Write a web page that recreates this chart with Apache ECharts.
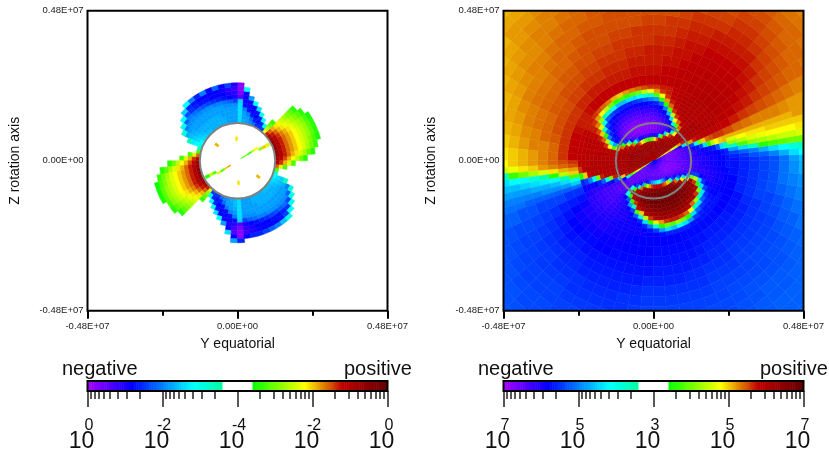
<!DOCTYPE html>
<html><head><meta charset="utf-8">
<script src="https://cdn.jsdelivr.net/npm/echarts@6/dist/echarts.min.js"></script>
<style>html,body{margin:0;padding:0;background:#fff}#c{width:829px;height:453px}</style>
</head><body><div id="c"></div>
<script>
// Levels: sign * 10 * (decades above the centre of the scale). +-40 = scale ends.
const axisExtent = 4.8e6;
const starRadius = 1.206e6;
const ringStep = 0.128e6;
const outerStep = 0.32e6;
const outerStart = 2.432e6;
const leftStart = 1.216e6;
const plotTickLabels = ['-0.48E+07','0.00E+00','0.48E+07'];
const plotMajorTicks = [-4.8e6,0,4.8e6];
const plotMinorTicks = [-2.4e6,2.4e6];
const barMajorTicks = [-40,-20,0,20,40];
const logOffsets = [0.915,1.938,3.098,4.437,6.02,7.96,10.46,13.98];
const leftExponents = ['0','-2','-4','-2','0'];
const rightExponents = ['7','5','3','5','7'];

// one row per 5 degree sector, rings of 4 px from the centre
const rightInner = [
[-30,-33,-35,-36,-36,-36,-35,-34,-33,-32,-31,-31,-30,-30,-29,-29,-28,-28,-27],
[-30,-33,-35,-36,-36,-36,-35,-34,-33,-32,-31,-30,-30,-29,-29,-28,-28,-27,-26],
[-30,-33,-35,-36,-36,-36,-35,-34,-33,-32,-31,-30,-29,-28,-27,-26,-22,-14,-6],
[-30,-33,-35,-36,-36,-36,-35,-34,-33,-31,-29,-27,-24,-14,6,14,18,20,21],
[-30,-33,-35,-36,-37,-36,-35,-34,-32,-30,-24,-10,10,20,24,25,26,26,26],
[-29,-33,-35,-36,-36,-35,-33,-28,-14,8,22,27,28,29,29,29,29,29,28],
[6,12,18,18,20,18,14,22,27,29,30,30,30,30,30,30,30,30,29],
[28,31,32,33,33,33,33,32,31,31,31,31,31,31,31,30,30,30,30],
[30,32,33,33,33,33,33,32,32,31,31,31,31,31,30,30,30,30,30],
[30,32,33,33,33,33,32,32,31,30,30,30,30,30,30,30,30,30,30],
[30,32,33,33,33,32,32,28,18,10,24,29,30,30,30,30,30,30,30],
[30,32,33,33,33,32,32,26,-6,-22,8,24,28,30,30,30,30,30,30],
[30,32,33,33,33,32,30,14,-28,-27,-8,18,26,29,30,30,30,30,29],
[30,32,33,33,33,32,27,-14,-32,-31,-28,-14,14,26,28,29,29,29,29],
[30,32,33,33,32,31,8,-30,-34,-33,-31,-28,-16,8,24,27,28,28,28],
[30,32,33,33,32,28,-6,-33,-35,-35,-33,-31,-28,-20,6,22,26,27,27],
[30,32,33,33,32,24,-26,-35,-36,-35,-34,-32,-30,-28,-22,6,18,26,27],
[30,32,33,33,32,16,-29,-36,-37,-36,-35,-33,-31,-29,-26,-18,8,22,26],
[30,32,33,33,32,10,-30,-36,-38,-37,-35,-34,-32,-30,-27,-20,-6,18,26],
[30,32,33,33,32,8,-31,-37,-38,-37,-36,-34,-32,-30,-28,-22,-8,14,25],
[30,32,33,33,31,6,-32,-37,-38,-38,-36,-34,-32,-30,-28,-24,-12,10,24],
[30,32,33,33,31,8,-32,-37,-38,-38,-36,-35,-33,-31,-29,-25,-14,8,23],
[30,32,33,33,31,10,-31,-37,-38,-38,-37,-35,-33,-31,-29,-26,-14,6,22],
[30,32,33,33,32,14,-30,-36,-38,-38,-37,-35,-33,-31,-29,-26,-16,8,20],
[30,32,33,33,32,18,-28,-36,-38,-38,-37,-35,-33,-31,-29,-26,-16,6,21],
[30,32,33,33,32,24,-22,-35,-37,-38,-36,-35,-33,-31,-29,-25,-12,10,23],
[30,32,33,33,32,27,-12,-33,-36,-37,-36,-34,-32,-30,-28,-24,-8,14,24],
[30,32,33,33,32,30,6,-30,-35,-36,-35,-33,-31,-29,-27,-22,-6,18,25],
[30,32,33,33,33,31,24,-6,-32,-34,-33,-31,-29,-27,-24,-10,12,22,26],
[30,32,33,33,33,32,29,14,-24,-31,-30,-28,-26,-22,-6,16,23,26,27],
[30,32,33,33,33,32,31,27,6,-24,-28,-26,-20,6,20,25,27,27,27],
[30,32,33,33,33,32,31,30,24,6,-18,-10,14,24,27,28,28,28,28],
[30,32,33,33,33,32,31,31,29,20,8,18,26,28,29,29,29,29,28],
[30,32,33,33,33,33,32,31,31,30,30,29,29,29,29,29,29,28,28],
[30,32,33,33,33,33,32,31,31,30,30,30,30,30,29,29,29,29,28],
[30,32,33,33,33,33,32,31,31,30,30,30,30,30,30,29,29,29,29],
[30,32,33,33,33,33,32,31,31,30,30,30,30,30,30,30,29,29,28],
[30,32,33,33,33,33,32,31,31,31,30,30,30,30,30,30,30,29,26],
[30,32,33,33,33,33,32,31,31,31,31,30,30,30,30,30,28,20,6],
[30,32,33,33,33,32,32,31,31,31,30,30,30,27,10,-10,-20,-24,-26],
[30,32,33,33,32,32,32,31,31,29,27,10,-8,-22,-26,-28,-29,-29,-29],
[27,29,30,30,30,30,29,27,20,-6,-24,-28,-30,-31,-31,-31,-31,-30,-30],
[6,12,16,12,18,12,6,-10,-28,-32,-33,-33,-33,-33,-33,-32,-32,-31,-31],
[-26,-33,-34,-35,-35,-35,-35,-35,-34,-34,-34,-34,-33,-33,-33,-32,-32,-31,-31],
[-26,-33,-34,-35,-35,-35,-35,-35,-34,-34,-34,-34,-33,-33,-33,-32,-32,-31,-31],
[-26,-33,-34,-35,-35,-35,-35,-35,-34,-34,-33,-32,-32,-32,-32,-32,-31,-31,-30],
[-26,-33,-34,-35,-35,-35,-35,-30,-10,-6,-12,-28,-31,-31,-31,-31,-31,-30,-30],
[-26,-33,-34,-35,-35,-35,-32,-24,6,30,6,-22,-29,-30,-30,-30,-30,-30,-29],
[-26,-33,-34,-35,-35,-34,-30,-6,30,33,30,6,-18,-28,-30,-30,-30,-29,-29],
[-26,-33,-34,-35,-34,-33,-18,24,33,34,33,26,-6,-24,-28,-29,-29,-29,-29],
[-26,-33,-34,-35,-34,-30,6,32,35,36,35,33,28,8,-22,-28,-29,-29,-29],
[-26,-33,-34,-35,-34,-26,14,33,36,37,36,34,31,20,-8,-26,-28,-29,-29],
[-26,-33,-34,-35,-34,-22,22,34,37,38,37,35,33,30,14,-14,-26,-28,-29],
[-26,-33,-34,-35,-34,-18,26,35,37,38,38,36,34,32,26,6,-20,-27,-28],
[-27,-33,-34,-35,-34,-16,28,35,38,38,38,37,35,33,30,16,-8,-24,-28],
[-27,-33,-35,-35,-34,-14,28,36,38,38,38,37,35,33,31,22,6,-18,-27],
[-27,-33,-35,-35,-34,-12,28,36,38,38,38,37,36,34,32,26,10,-14,-26],
[-27,-33,-35,-35,-34,-12,28,36,38,38,38,37,36,34,32,27,8,-16,-26],
[-27,-34,-35,-36,-34,-16,26,36,38,38,38,37,36,34,32,27,12,-12,-26],
[-27,-34,-35,-36,-35,-20,24,35,38,38,38,37,36,34,32,26,10,-14,-26],
[-28,-34,-35,-36,-35,-24,20,35,37,38,38,37,35,34,31,24,6,-18,-27],
[-28,-34,-35,-36,-35,-28,12,34,37,38,37,36,35,33,30,18,-14,-24,-27],
[-28,-34,-36,-36,-36,-32,-8,30,36,37,37,36,34,32,24,-6,-22,-26,-27],
[-28,-34,-36,-36,-36,-33,-24,24,34,36,36,35,33,31,12,-14,-25,-27,-27],
[-29,-34,-36,-37,-37,-35,-30,-6,30,34,35,34,32,26,-6,-22,-26,-27,-27],
[-29,-34,-36,-37,-37,-36,-32,-22,16,32,34,33,30,10,-14,-25,-27,-27,-27],
[-29,-34,-36,-37,-37,-36,-34,-30,-14,14,32,26,6,-14,-24,-27,-28,-28,-27],
[-30,-34,-36,-37,-37,-36,-35,-33,-30,-16,10,14,-14,-25,-28,-29,-29,-28,-28],
[-30,-34,-36,-37,-37,-37,-36,-35,-33,-31,-24,-24,-28,-30,-30,-30,-29,-29,-28],
[-30,-34,-36,-37,-37,-37,-36,-35,-34,-33,-32,-31,-31,-31,-30,-30,-29,-29,-28],
[-30,-34,-36,-37,-37,-37,-36,-35,-34,-33,-32,-31,-31,-30,-30,-29,-29,-28,-28],
[-30,-33,-35,-36,-36,-36,-35,-35,-34,-33,-32,-31,-30,-30,-29,-29,-28,-28,-27]
];

// outer field: sector edges in degrees, one row per sector, rings of 10 px
const rightOuterEdges = [0,2.5,5,7.5,10,12.5,15,17.5,20,25,30,35,40,45,50,55,60,65,70,75,80,85,90,95,100,105,110,115,120,125,130,135,140,145,150,155,160,165,170,175,180,182.5,185,187.5,190,192.5,195,197.5,200,205,210,215,220,225,230,235,240,245,250,255,260,265,270,275,280,285,290,295,300,305,310,315,320,325,330,335,340,345,350,355,360];
const rightOuter = [
[-27,-26,-25,-24,-23,-21,-18,-16],
[-26,-25,-23,-22,-20,-17,-14,-12],
[-24,-22,-20,-17,-14,-12,-9,-6],
[-18,-14,-6,6,8,9,10,10],
[-6,8,12,13,14,15,15,16],
[12,14,16,17,18,18,18,19],
[16,18,19,19,20,20,20,20,21],
[21,21,21,21,21,21,21,22,22],
[25,24,23.5,23,23,23,22.5,22,22],
[28,27,26,25.5,25,24.5,24,23.5,23,23],
[29,28.5,27.5,27,26,25.5,25,24.5,24,24,23.5],
[29.5,29,28.5,27.5,27,26,25.5,25,24.5,24,24,23.5],
[30,29.5,29,28.5,27.5,27,26,25.5,25,24.5,24,24,23.5,23],
[30,29.5,29,28.5,28,27.5,27,26,25.5,25,24.5,24,23.5,23],
[30,29.5,29,28.5,28,27.5,27,26.5,26,25.5,25,24.5],
[29.5,29.5,29,28.5,28,27.5,27,26.5,26,25.5,25],
[29.5,29,28.5,28.5,28,27.5,27,26,25.5,25],
[29,28.5,28.5,28,27.5,27,26.5,26,25.5],
[28.5,28.5,28,27.5,27.5,27,26.5,26,25],
[28.5,28,27.5,27.5,27,26.5,26,25.5],
[28,28,27.5,27,26.5,26,26,25],
[28,27.5,27,27,26.5,26,25.5,25],
[28,27.5,27,27,26,26,25.5,25],
[28,27.5,27,26.5,26,26,25,25],
[28,27.5,27,26.5,26,25.5,25,25],
[28,27,26.5,26,26,25.5,25,25,24.5],
[28,27,26.5,26,25.5,25,25,24.5,24.5],
[28,27,26.5,26,25.5,25,25,24.5,24,24],
[28,27,26,25.5,25,25,24.5,24,24,23.5,23],
[28,27,26,25.5,25,24.5,24,24,23.5,23,23,22.5],
[28,27,26,25,24.5,24,24,23.5,23,23,22.5,22,21.5,21],
[28,26.5,25.5,25,24.5,24,23.5,23,22.5,22.5,22,22,21.5,21],
[27.5,26.5,25.5,25,24,23.5,23,23,22.5,22,21.5,21],
[27,26,25,24.5,24,23.5,23,22.5,22,21.5,21],
[27,26,25,24.5,24,23.5,23,22,21.5,21],
[27.5,26,25,24,23.5,23,22.5,21.5,21],
[28,26,25,24,23.5,23,22,21.5,20.5],
[28,26,24.5,24,23,22.5,21.5,21],
[28,26,24,23,23,22,21,20],
[28,26,24,23,22,21,20,19],
[26,25,24,23,22,21,20,18],
[25,24,23,22,20,19,17,15],
[22,21,19,16,13,10,7,-6],
[20,14,6,-5,-8,-11,-12,-14],
[8,-5,-11,-13,-14,-15,-16,-16],
[-9,-14,-16,-17,-17,-18,-18,-18],
[-15,-18,-19,-19,-20,-20,-20,-20,-20],
[-21,-22,-22,-22,-22,-22,-21,-21,-21],
[-25,-25,-24,-24,-24,-23,-23,-22,-22],
[-27,-26.5,-26,-25,-24.5,-24,-23.5,-23.5,-23,-23],
[-29,-28,-27,-26,-25,-24.5,-24,-24,-23.5,-23,-23],
[-30,-29,-28,-26.5,-25.5,-25,-24.5,-24,-24,-23.5,-23,-23],
[-30,-29,-28,-27,-26,-25,-24.5,-24.5,-24,-24,-23.5,-23,-23,-23],
[-30,-29,-27.5,-26.5,-26,-25.5,-25,-24.5,-24,-24,-23.5,-23.5,-23,-23],
[-30,-29,-27.5,-27,-26,-25.5,-25,-24.5,-24,-24,-23.5,-23.5],
[-29.5,-28.5,-28,-27,-26.5,-26,-25,-25,-24.5,-24,-24],
[-29,-28.5,-28,-27,-26.5,-26,-25.5,-25,-24.5,-24],
[-29,-28.5,-27.5,-27,-26.5,-26,-25.5,-25,-24.5],
[-28.5,-28,-27.5,-27,-26.5,-26,-25.5,-25,-24.5],
[-28,-28,-27.5,-27,-26.5,-26,-25,-25],
[-28,-28,-27.5,-27,-26.5,-25.5,-25,-24.5],
[-28,-28,-27.5,-27,-26,-25,-24.5,-24],
[-28,-27.5,-27,-26.5,-26,-25,-24.5,-24],
[-28,-27.5,-27,-26.5,-26,-25,-24.5,-24],
[-28,-27.5,-27,-26.5,-26,-25,-24.5,-24],
[-28,-27.5,-27,-26.5,-25.5,-25,-24.5,-24,-24],
[-27.5,-27.5,-27,-26,-25.5,-25,-24.5,-24,-23.5],
[-27.5,-27,-26.5,-26,-25,-24.5,-24,-24,-23.5,-23.5],
[-27.5,-27,-26,-25.5,-25,-24.5,-24,-23.5,-23.5,-23,-23],
[-27.5,-26.5,-26,-25.5,-25,-24.5,-24,-23.5,-23,-23,-22.5,-22.5],
[-27.5,-26.5,-26,-25,-24.5,-24,-24,-23.5,-23,-22.5,-22.5,-22,-22,-22],
[-27.5,-26.5,-26,-25,-24.5,-24,-23.5,-23.5,-23,-22.5,-22.5,-22,-22,-22],
[-28,-26.5,-26,-25,-24.5,-24,-23.5,-23,-23,-22.5,-22,-22],
[-28,-27,-26,-25,-24.5,-24,-23.5,-23,-22.5,-22,-22],
[-28,-27,-26,-25,-24.5,-24,-23,-22.5,-22,-21.5],
[-28,-27,-25.5,-25,-24,-23.5,-22.5,-22,-21],
[-28,-26,-25,-24,-24,-23,-22,-21,-21],
[-28,-26,-25,-24,-23,-22,-21,-20],
[-27,-26,-25,-24,-23,-21,-20,-19],
[-27,-26,-25,-24,-23,-21,-19,-17]
];

// left panel: one row per 5 degree sector, rings of 4 px from the star surface
const leftLobes = [
[32,28,25,21,18,14,10,6],
[33,30,27,24,21,19,16,13,9,6],
[34,30,27,24,22,20,18,16,13,10,7],
[34,30,27,24,22,20,18,16,14,11,8,5],
[34,30,27,24,22,20,18,16,14,12,9,6],
[33,30,27,24,22,20,18,16,14,12,9,6],
[32,29,26,23,21,19,17,15,13,11,8,5],
[30,27,24,21,19,17,15,13,11,9,6],
[27,24,21,19,17,15,13,11,9,6],
[18,14,10,7],
[-24,-10],
[-25,-26,-12],
[-25,-27,-26,-10],
[-21,-26,-28,-27,-14],
[-19,-21,-27,-29,-28,-12],
[-18,-18,-20,-27,-29,-29,-18],
[-17,-18,-18,-20,-27,-29,-29,-28,-12],
[-14,-14,-14,-14,-14,-15,-34,-37,-38,-38],
[-18,-18,-18,-18,-19,-24,-30,-31,-32,-30],
[-18,-18,-18,-18,-19,-22,-28,-30,-31,-24],
[-18,-18,-18,-18,-19,-21,-27,-28,-29,-28],
[-17,-17,-18,-18,-18,-20,-26,-28,-28,-22],
[-17,-17,-17,-18,-18,-20,-25,-28,-28,-28],
[-17,-17,-17,-18,-18,-19,-24,-27,-28,-20],
[-17,-17,-17,-18,-18,-19,-23,-27,-28,-26],
[-17,-17,-17,-18,-18,-19,-22,-26,-27,-20],
[-16,-17,-17,-18,-18,-19,-21,-25,-26,-12],
[-16,-17,-17,-18,-18,-19,-20,-23,-15],
[-15,-16,-17,-18,-18,-19,-22,-12],
[-14,-15,-16,-17,-18,-20,-10],
[-12,-14,-15,-16,-17,-8],
[-10,-12,-13,-6],
[-6],
[8],
[24,16,8],
[30,26,21,16,8],
[32,28,25,21,18,14,10,6],
[33,30,27,24,21,19,16,13,9,6],
[34,30,27,24,22,20,18,16,13,10,7],
[34,30,27,24,22,20,18,16,14,11,8,4],
[34,30,27,24,22,20,18,16,14,12,9,5],
[33,30,27,24,22,20,18,16,14,12,9,5],
[32,29,26,23,21,19,17,15,13,11,8],
[30,27,24,21,19,17,15,13,11,9,6],
[27,24,21,19,17,15,13,11,9,6],
[16,12,9,7],
[-24,-10],
[-25,-26,-12],
[-25,-27,-26,-10],
[-21,-26,-28,-27,-14],
[-19,-21,-27,-29,-28,-12],
[-18,-18,-20,-27,-29,-29,-18],
[-17,-18,-18,-20,-27,-29,-30,-29,-14],
[-16,-16,-17,-18,-20,-27,-31,-33,-34,-28,-18],
[-14,-14,-14,-14,-14,-15,-34,-37,-38,-38,-26],
[-18,-18,-18,-18,-19,-24,-30,-31,-32,-28],
[-18,-18,-18,-18,-19,-22,-28,-30,-30,-26],
[-18,-18,-18,-18,-19,-21,-27,-28,-29,-26],
[-17,-17,-18,-18,-18,-20,-26,-28,-28,-24],
[-17,-17,-17,-18,-18,-20,-25,-28,-28,-22],
[-17,-17,-17,-18,-18,-19,-24,-27,-28,-20],
[-17,-17,-17,-18,-18,-19,-23,-27,-27,-16],
[-16,-17,-17,-18,-18,-19,-22,-26,-24,-10],
[-16,-17,-17,-18,-18,-19,-21,-25,-12],
[-16,-17,-17,-18,-18,-19,-24,-10],
[-15,-16,-17,-18,-18,-22,-10],
[-14,-15,-16,-17,-20,-8],
[-12,-14,-15,-6],
[-8],
[8],
[24,16,8],
[30,26,21,16,8]
];
// left panel specks inside the star: [sector, ring of 4 px, level]
const leftSpecks = [
[6,1,6],[6,2,10],[6,3,6],[6,4,14],[6,5,18],[5,6,12],[5,7,20],[5,8,16],
[42,2,22],[42,3,20],[42,4,8],[42,5,16],[41,6,8],[41,7,14],[41,8,6],
[28,6,21],[18,5,19],[54,5,19],[64,6,21]
];

const colorStops = [[-40,[168,0,255]],[-28,[0,0,255]],[-12,[0,255,255]],[-3.8,[0,255,160]],[3.8,[0,255,0]],[18,[255,255,0]],[28,[192,0,0]],[40,[96,0,0]]];
function rampColor(L){
  if (Math.abs(L) < 3.8) return '#ffffff';
  for (let i=0;i<colorStops.length-1;i++){
    const a=colorStops[i], b=colorStops[i+1];
    if (L>=a[0] && L<=b[0]){
      const t=(L-a[0])/(b[0]-a[0]);
      return 'rgb('+a[1].map((v,k)=>Math.round(v+(b[1][k]-v)*t)).join(',')+')';
    }
  }
  return '#ffffff';
}

function addCells(out, rows, start, step, edges){
  rows.forEach((row,s)=>{
    const a0 = edges ? edges[s] : s*5, a1 = edges ? edges[s+1] : s*5+5;
    row.forEach((v,j)=>{ out.push([start+j*step, start+(j+1)*step, a0, a1, v]); });
  });
  return out;
}
const rightCells = addCells(addCells([], rightInner, 0, ringStep), rightOuter, outerStart, outerStep, rightOuterEdges);
const leftCells = addCells([], leftLobes, leftStart, ringStep);
leftSpecks.forEach(s=>leftCells.push([s[1]*ringStep,(s[1]+1)*ringStep,s[0]*5,s[0]*5+5,s[2]]));

const barCells=[]; for(let L=-40;L<40;L+=0.5) barCells.push([L,L+0.5,0,0,L+0.25]);

function polarCell(params, api){
  const r0=api.value(0), r1=api.value(1), a0=api.value(2)*Math.PI/180, a1=api.value(3)*Math.PI/180;
  const am=(a0+a1)/2, pts=[];
  [a0,am,a1].forEach(a=>pts.push(api.coord([r1*Math.cos(a),r1*Math.sin(a)])));
  [a1,am,a0].forEach(a=>pts.push(api.coord([r0*Math.cos(a),r0*Math.sin(a)])));
  const c=rampColor(api.value(4));
  return {type:'polygon',shape:{points:pts},style:{fill:c,stroke:c,lineWidth:0.5}};
}
function barCell(params, api){
  const cs=params.coordSys, a=api.coord([api.value(0),0]), b=api.coord([api.value(1),0]);
  return {type:'rect',shape:{x:a[0],y:cs.y,width:b[0]-a[0]+0.5,height:cs.height},style:{fill:rampColor(api.value(4))}};
}
function frame(params){
  const cs=params.coordSys;
  return {type:'rect',shape:{x:cs.x,y:cs.y,width:cs.width,height:cs.height},style:{fill:'none',stroke:'#000',lineWidth:2}};
}
function star(params, api){
  const c=api.coord([0,0]), r=api.size([starRadius,0])[0];
  return {type:'circle',shape:{cx:c[0],cy:c[1],r:r},style:{fill:'none',stroke:'#808080',lineWidth:2}};
}

const FONT='"Liberation Sans"';
const grids=[
 {left:87.5,top:10.8,width:300,height:300},
 {left:503.5,top:10.8,width:300,height:300},
 {left:87.5,top:381,width:300,height:13},
 {left:503.5,top:381,width:300,height:13}
];
const xAxes=[], yAxes=[], series=[];
[0,1].forEach(g=>{
  const base={gridIndex:g,type:'value',min:-axisExtent,max:axisExtent,position:'bottom',splitLine:{show:false},axisLine:{show:false,onZero:false}};
  const major=xAxes.length;
  xAxes.push(Object.assign({},base,{
    name:'Y equatorial',nameLocation:'middle',nameGap:21,nameTextStyle:{fontFamily:FONT,fontSize:14,color:'#111'},
    axisTick:{show:true,length:8,customValues:plotMajorTicks,lineStyle:{color:'#000',width:2}},
    axisLabel:{show:true,customValues:plotMajorTicks,margin:11,fontFamily:FONT,fontSize:9.5,color:'#222',
      formatter:v=>plotTickLabels[plotMajorTicks.indexOf(v)]}
  }));
  xAxes.push(Object.assign({},base,{
    axisTick:{show:true,length:5,customValues:plotMinorTicks,lineStyle:{color:'#000',width:2}},axisLabel:{show:false}
  }));
  const yi=yAxes.length;
  yAxes.push({gridIndex:g,type:'value',min:-axisExtent,max:axisExtent,position:'left',splitLine:{show:false},
    axisLine:{show:false,onZero:false},axisTick:{show:false},
    name:'Z rotation axis',nameLocation:'middle',nameGap:65,nameTextStyle:{fontFamily:FONT,fontSize:14,color:'#111'},
    axisLabel:{show:true,customValues:plotMajorTicks,margin:4,fontFamily:FONT,fontSize:9.5,color:'#222',padding:[2,0,0,0],
      formatter:v=>plotTickLabels[plotMajorTicks.indexOf(v)]}});
  series.push({type:'custom',name:g?'rightField':'leftField',coordinateSystem:'cartesian2d',xAxisIndex:major,yAxisIndex:yi,clip:true,silent:true,z:2,
    renderItem:polarCell,data:g?rightCells:leftCells,encode:{x:0,y:1},animation:false});
  series.push({type:'custom',coordinateSystem:'cartesian2d',xAxisIndex:major,yAxisIndex:yi,clip:false,silent:true,z:5,renderItem:star,data:[[0,0]],animation:false});
  series.push({type:'custom',coordinateSystem:'cartesian2d',xAxisIndex:major,yAxisIndex:yi,clip:false,silent:true,z:6,renderItem:frame,data:[[0,0]],animation:false});
});
[2,3].forEach(g=>{
  const exps=g===2?leftExponents:rightExponents;
  const base={gridIndex:g,type:'value',min:-40,max:40,position:'bottom',splitLine:{show:false},axisLine:{show:false,onZero:false}};
  const minor=[];
  [-40,-20].forEach(m=>logOffsets.forEach(o=>minor.push(m+o)));
  [40,20].forEach(m=>logOffsets.forEach(o=>minor.push(m-o)));
  const ax=xAxes.length;
  xAxes.push(Object.assign({},base,{
    axisTick:{show:true,length:16,customValues:barMajorTicks,lineStyle:{color:'#222',width:1.5}},
    axisLabel:{show:true,customValues:barMajorTicks,margin:27,fontFamily:FONT,fontSize:16,color:'#111',padding:[0,0,0,3],
      formatter:v=>exps[barMajorTicks.indexOf(v)]}
  }));
  xAxes.push(Object.assign({},base,{
    axisTick:{show:true,length:8,customValues:minor,lineStyle:{color:'#222',width:1.5}},axisLabel:{show:false}
  }));
  xAxes.push(Object.assign({},base,{
    axisTick:{show:false},
    axisLabel:{show:true,customValues:barMajorTicks,margin:39,fontFamily:FONT,fontSize:23,color:'#111',padding:[0,12,0,0],formatter:()=>'10'}
  }));
  const yi=yAxes.length;
  yAxes.push({gridIndex:g,type:'value',min:0,max:1,show:false});
  series.push({type:'custom',name:'colorbar',coordinateSystem:'cartesian2d',xAxisIndex:ax,yAxisIndex:yi,clip:true,silent:true,z:2,
    renderItem:barCell,data:barCells,animation:false});
  series.push({type:'custom',coordinateSystem:'cartesian2d',xAxisIndex:ax,yAxisIndex:yi,clip:false,silent:true,z:6,renderItem:frame,data:[[0,0]],animation:false});
});
const textStyle=(t)=>({text:t,fontFamily:FONT,fontSize:20,fill:'#111'});
const chart=echarts.init(document.getElementById('c'),null,{renderer:'canvas'});
chart.setOption({
  animation:false,backgroundColor:'#fff',
  grid:grids,xAxis:xAxes,yAxis:yAxes,series:series,
  graphic:[
    {type:'text',left:62,top:359,style:textStyle('negative')},
    {type:'text',left:344,top:359,style:textStyle('positive')},
    {type:'text',left:478,top:359,style:textStyle('negative')},
    {type:'text',left:760,top:359,style:textStyle('positive')}
  ]
});
</script></body></html>
